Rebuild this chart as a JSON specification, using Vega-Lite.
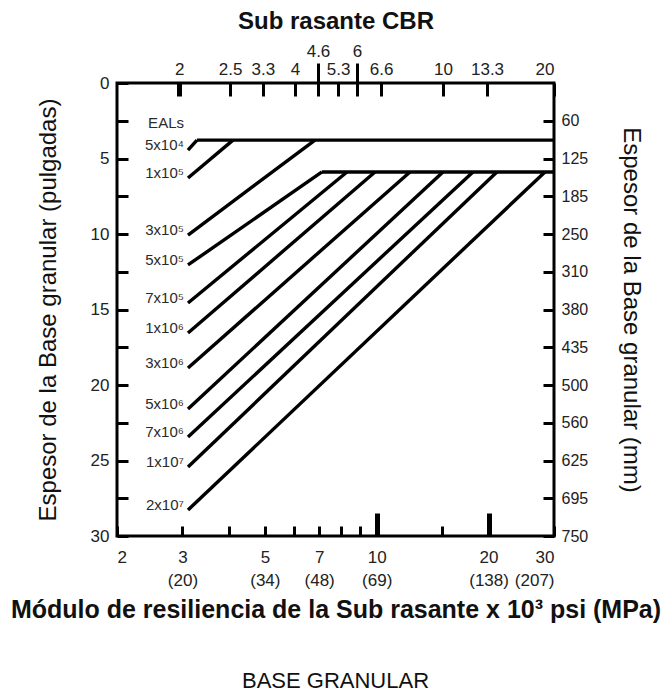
{
  "$schema": "https://vega.github.io/schema/vega-lite/v6.json",
  "width": 437,
  "height": 453,
  "autosize": {"type": "none"},
  "padding": {"left": 117, "top": 83, "right": 111, "bottom": 158},
  "background": "white",
  "config": {
    "font": "Liberation Sans",
    "view": {"stroke": "black", "strokeWidth": 3},
    "axis": {"domain": false, "grid": false, "tickColor": "black", "labelColor": "#222", "titleColor": "#111", "labelOverlap": false}
  },
  "title": {"text": "BASE GRANULAR", "orient": "bottom", "fontSize": 22, "fontWeight": "normal", "offset": 49, "color": "#111"},
  "datasets": {
    "lines": [
      {"series": "h1", "k": 0, "x": 3.283, "y": 3.78},
      {"series": "h1", "k": 1, "x": 30, "y": 3.78},
      {"series": "h2", "k": 0, "x": 7.124, "y": 5.89},
      {"series": "h2", "k": 1, "x": 30, "y": 5.89},
      {"series": "5x10⁴", "k": 0, "x": 3.105, "y": 4.44},
      {"series": "5x10⁴", "k": 1, "x": 3.283, "y": 3.78},
      {"series": "1x10⁵", "k": 0, "x": 3.105, "y": 6.29},
      {"series": "1x10⁵", "k": 1, "x": 4.104, "y": 3.78},
      {"series": "3x10⁵", "k": 0, "x": 3.105, "y": 10.07},
      {"series": "3x10⁵", "k": 1, "x": 6.822, "y": 3.78},
      {"series": "5x10⁵", "k": 0, "x": 3.105, "y": 12.05},
      {"series": "5x10⁵", "k": 1, "x": 7.124, "y": 5.89},
      {"series": "7x10⁵", "k": 0, "x": 3.105, "y": 14.57},
      {"series": "7x10⁵", "k": 1, "x": 8.318, "y": 5.89},
      {"series": "1x10⁶", "k": 0, "x": 3.105, "y": 16.56},
      {"series": "1x10⁶", "k": 1, "x": 9.894, "y": 5.89},
      {"series": "3x10⁶", "k": 0, "x": 3.105, "y": 18.87},
      {"series": "3x10⁶", "k": 1, "x": 12.29, "y": 5.89},
      {"series": "5x10⁶", "k": 0, "x": 3.105, "y": 21.59},
      {"series": "5x10⁶", "k": 1, "x": 15.08, "y": 5.89},
      {"series": "7x10⁶", "k": 0, "x": 3.105, "y": 23.44},
      {"series": "7x10⁶", "k": 1, "x": 18.16, "y": 5.89},
      {"series": "1x10⁷", "k": 0, "x": 3.105, "y": 25.43},
      {"series": "1x10⁷", "k": 1, "x": 21.06, "y": 5.89},
      {"series": "2x10⁷", "k": 0, "x": 3.105, "y": 28.28},
      {"series": "2x10⁷", "k": 1, "x": 28.37, "y": 5.89}
    ],
    "labels": [
      {"label": "EALs", "x": 3.105, "y": 2.95},
      {"label": "5x10⁴", "x": 3.105, "y": 4.44},
      {"label": "1x10⁵", "x": 3.105, "y": 6.29},
      {"label": "3x10⁵", "x": 3.105, "y": 10.07},
      {"label": "5x10⁵", "x": 3.105, "y": 12.05},
      {"label": "7x10⁵", "x": 3.105, "y": 14.57},
      {"label": "1x10⁶", "x": 3.105, "y": 16.56},
      {"label": "3x10⁶", "x": 3.105, "y": 18.87},
      {"label": "5x10⁶", "x": 3.105, "y": 21.59},
      {"label": "7x10⁶", "x": 3.105, "y": 23.44},
      {"label": "1x10⁷", "x": 3.105, "y": 25.43},
      {"label": "2x10⁷", "x": 3.105, "y": 28.28}
    ]
  },
  "layer": [
    {
      "data": {"name": "lines"},
      "mark": {"type": "line", "color": "black", "strokeWidth": 3.4, "strokeCap": "butt"},
      "encoding": {
        "x": {
          "field": "x", "type": "quantitative",
          "scale": {"type": "log", "domain": [2, 30]},
          "axis": {
            "orient": "bottom",
            "values": [2, 3, 4, 5, 6, 7, 8, 9, 10, 15, 20, 30],
            "tickSize": {"condition": {"test": "datum.value == 10 || datum.value == 20", "value": -23}, "value": -10},
            "tickWidth": {"condition": {"test": "datum.value == 10 || datum.value == 20", "value": 5}, "value": 3},
            "labelExpr": "datum.value == 2 ? '2' : datum.value == 3 ? ['3', '(20)'] : datum.value == 5 ? ['5', '(34)'] : datum.value == 7 ? ['7', '(48)'] : datum.value == 10 ? ['10', '(69)'] : datum.value == 20 ? ['20', '(138)'] : datum.value == 30 ? ['30', '(207)'] : ''",
            "labelFontSize": 17,
            "labelLineHeight": 23,
            "labelPadding": {"condition": {"test": "datum.value == 10 || datum.value == 20", "value": 36}, "value": 23},
            "labelFlush": true,
            "labelFlushOffset": 0,
            "title": "Módulo de resiliencia de la Sub rasante x 10³ psi (MPa)",
            "titleFontSize": 25,
            "titleFontWeight": "bold",
            "titlePadding": 9
          }
        },
        "y": {
          "field": "y", "type": "quantitative",
          "scale": {"domain": [0, 30], "reverse": true},
          "axis": {
            "orient": "left",
            "values": [0, 2.5, 5, 7.5, 10, 12.5, 15, 17.5, 20, 22.5, 25, 27.5, 30],
            "tickSize": -11,
            "tickWidth": 3,
            "labelExpr": "datum.value % 5 == 0 ? datum.label : ''",
            "labelFontSize": 17,
            "labelPadding": 19,
            "title": "Espesor de la Base granular (pulgadas)",
            "titleFontSize": 24,
            "titleFontWeight": "normal",
            "titlePadding": 30
          }
        },
        "detail": {"field": "series"},
        "order": {"field": "k"}
      }
    },
    {
      "data": {"name": "labels"},
      "mark": {"type": "text", "align": "right", "baseline": "middle", "dx": -4, "dy": -5, "fontSize": 15, "color": "#2a2a2a"},
      "encoding": {
        "x": {
          "field": "x", "type": "quantitative",
          "scale": {"type": "log", "domain": [2, 30]},
          "axis": {
            "orient": "top",
            "values": [2.94, 4.03, 4.94, 6.03, 6.95, 7.87, 8.85, 10.27, 15.08, 19.81, 30],
            "tickSize": -13,
            "tickWidth": {"condition": {"test": "datum.value < 3", "value": 5}, "value": 3},
            "labelExpr": "['2', '2.5', '3.3', '4', '4.6', '5.3', '6', '6.6', '10', '13.3', '20'][indexof([2.94, 4.03, 4.94, 6.03, 6.95, 7.87, 8.85, 10.27, 15.08, 19.81, 30], datum.value)]",
            "labelPadding": {"condition": {"test": "datum.value == 6.95 || datum.value == 8.85", "value": 36}, "value": 18},
            "labelFontSize": 17,
            "labelFlush": true,
            "title": "Sub rasante CBR",
            "titleFontSize": 24,
            "titleFontWeight": "bold",
            "titlePadding": 9
          }
        },
        "y": {
          "field": "y", "type": "quantitative",
          "scale": {"domain": [0, 30], "reverse": true},
          "axis": {
            "orient": "right",
            "values": [2.5, 5, 7.5, 10, 12.5, 15, 17.5, 20, 22.5, 25, 27.5, 30],
            "tickSize": -11,
            "tickWidth": 3,
            "labelExpr": "['60', '125', '185', '250', '310', '380', '435', '500', '560', '625', '695', '750'][round(datum.value / 2.5) - 1]",
            "labelFontSize": 16,
            "labelPadding": 18,
            "title": "Espesor de la Base granular (mm)",
            "titleFontSize": 24,
            "titleFontWeight": "normal",
            "titlePadding": 31
          }
        },
        "text": {"field": "label"}
      }
    },
    {
      "data": {"name": "labels"},
      "mark": {"type": "point", "opacity": 0},
      "encoding": {
        "x": {
          "field": "x", "type": "quantitative",
          "scale": {"type": "log", "domain": [2, 30]},
          "axis": {
            "orient": "top",
            "values": [6.95, 8.85],
            "tickSize": 20,
            "tickWidth": 3,
            "labels": false,
            "title": null
          }
        },
        "y": {
          "field": "y", "type": "quantitative",
          "scale": {"domain": [0, 30], "reverse": true},
          "axis": null
        }
      }
    }
  ],
  "resolve": {"axis": {"x": "independent", "y": "independent"}}
}
